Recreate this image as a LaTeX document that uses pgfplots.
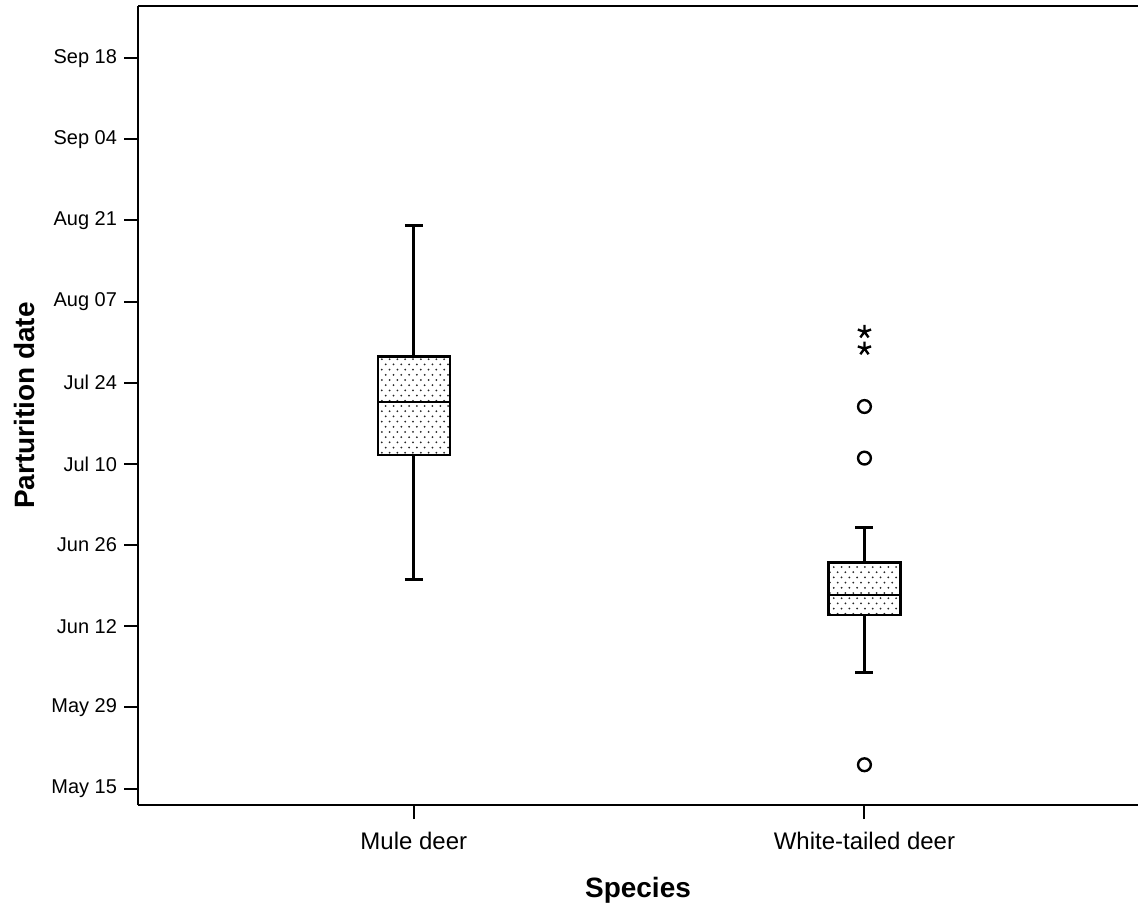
\documentclass[border=0pt]{standalone}
\usepackage{fontspec}
\setmainfont{Liberation Sans}
\usepackage{pgfplots}
\pgfplotsset{compat=1.18}
\usetikzlibrary{patterns}
\pgfdeclarepatternformonly{sparsedots}{\pgfqpoint{-1pt}{-1pt}}{\pgfqpoint{4pt}{5.3pt}}{\pgfqpoint{3.9pt}{5.2pt}}{
  \pgfpathcircle{\pgfqpoint{0pt}{0pt}}{0.5pt}
  \pgfpathcircle{\pgfqpoint{1.95pt}{2.6pt}}{0.5pt}
  \pgfusepath{fill}}
\begin{document}
\begin{tikzpicture}
\begin{axis}[
  scale only axis,
  width=500.5pt, height=400pt,
  xmin=0.388, xmax=2.607,
  ymin=-2.88, ymax=135,
  axis x line=bottom, axis y line=left,
  axis line style={line width=1pt,-},
  tick align=outside,
  major tick length=7pt,
  tick style={line width=1pt,black},
  xtick={1,2}, xticklabels={Mule deer, White-tailed deer},
  ytick={0,14,28,42,56,70,84,98,112,126},
  yticklabels={May 15,May 29,Jun 12,Jun 26,Jul 10,Jul 24,Aug 07,Aug 21,Sep 04,Sep 18},
  yticklabel style={font=\fontsize{10}{12}\selectfont},
  xticklabel style={font=\fontsize{12}{14}\selectfont, yshift=-3pt},
  every axis y label/.style={at={(axis description cs:-0.113,0.5)},rotate=90,anchor=center},
  every axis x label/.style={at={(axis description cs:0.5,-0.106)},anchor=center},
  ylabel={\fontsize{14}{16}\selectfont\bfseries Parturition date},
  xlabel={\fontsize{14}{16}\selectfont\bfseries Species},
  clip=false,
]
% ---- Mule deer (Q1=57.5, median=66.7, Q3=74.5, whiskers 36.1 / 97.1)
\addplot[black, line width=1.5pt] coordinates {(1,36.1) (1,57.5)};
\addplot[black, line width=1.5pt] coordinates {(1,74.5) (1,97.1)};
\addplot[black, line width=1.5pt] coordinates {(0.98,36.1) (1.02,36.1)};
\addplot[black, line width=1.5pt] coordinates {(0.98,97.1) (1.02,97.1)};
\addplot[draw=black, line width=1.2pt, fill=white, postaction={pattern=sparsedots, pattern color=black!85}]
  coordinates {(0.92,57.5) (1.08,57.5) (1.08,74.5) (0.92,74.5)} -- cycle;
\addplot[black, line width=1.2pt] coordinates {(0.92,66.7) (1.08,66.7)};
% ---- White-tailed deer (Q1=29.9, median=33.4, Q3=39.0, whiskers 20.0 / 45.0)
\addplot[black, line width=1.5pt] coordinates {(2,20.0) (2,29.9)};
\addplot[black, line width=1.5pt] coordinates {(2,39.0) (2,45.0)};
\addplot[black, line width=1.5pt] coordinates {(1.98,20.0) (2.02,20.0)};
\addplot[black, line width=1.5pt] coordinates {(1.98,45.0) (2.02,45.0)};
\addplot[draw=black, line width=1.2pt, fill=white, postaction={pattern=sparsedots, pattern color=black!85}]
  coordinates {(1.92,29.9) (2.08,29.9) (2.08,39.0) (1.92,39.0)} -- cycle;
\addplot[black, line width=1.2pt] coordinates {(1.92,33.4) (2.08,33.4)};
% outliers (circles)
\addplot[only marks, mark=o, mark size=3.2pt, line width=1.2pt, black]
  coordinates {(2,65.9) (2,57.0) (2,4.1)};
% extreme values (asterisks)
\addplot[only marks, mark=star, mark size=3.5pt, line width=1.2pt, black]
  coordinates {(2,78.8) (2,75.9)};
\draw[line width=1pt] (rel axis cs:0,1) -- (rel axis cs:1,1);
\path (axis description cs:-0.138,-0.131) (axis description cs:1,1.0075);
\end{axis}
\end{tikzpicture}
\end{document}
